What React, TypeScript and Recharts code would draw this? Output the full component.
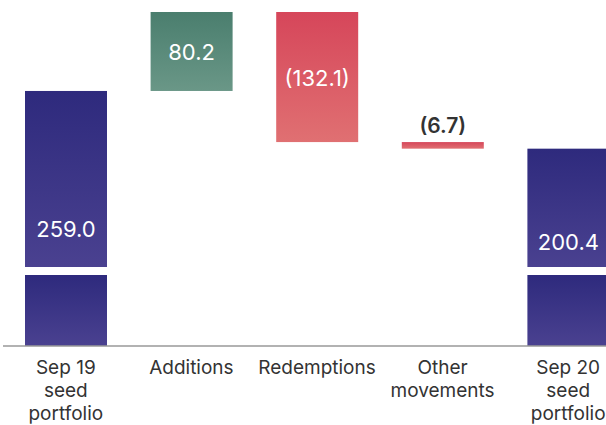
import React from "react";
import { BarChart, Bar, XAxis, YAxis, Cell, LabelList } from "recharts";

const categories = ["Sep 19\nseed\nportfolio", "Additions", "Redemptions", "Other\nmovements", "Sep 20\nseed\nportfolio"];
const values = [259.0, 80.2, -132.1, -6.7, 200.4];
const kinds = ["total", "up", "down", "down", "total"];
const labels = ["259.0", "80.2", "(132.1)", "(6.7)", "200.4"];

const data = (() => {
  let running = 0;
  return categories.map((name, i) => {
    let range: [number, number];
    if (kinds[i] === "total") {
      range = [0, Math.abs(values[i])];
      running = Math.abs(values[i]);
    } else {
      const next = running + values[i];
      range = [Math.min(running, next), Math.max(running, next)];
      running = next;
    }
    return { name, range, kind: kinds[i], label: labels[i] };
  });
})();

const gradId: Record<string, string> = { total: "gTotal", up: "gUp", down: "gDown" };

const FONT = "Inter, 'Noto Sans', sans-serif";

const BAR_GAP_BOTTOM = 71;
const BAR_GAP = 8;

const BarShape = (props: any) => {
  const { x, y, width, height, payload } = props;
  const fill = `url(#${gradId[payload.kind]})`;
  if (payload.kind === "total") {
    const lowerTop = y + height - BAR_GAP_BOTTOM;
    return (
      <g>
        <rect x={x} y={y} width={width} height={lowerTop - BAR_GAP - y} fill={fill} />
        <rect x={x} y={lowerTop} width={width} height={BAR_GAP_BOTTOM} fill={fill} />
      </g>
    );
  }
  return <rect x={x} y={y} width={width} height={height} fill={fill} />;
};

const BarLabel = (props: any) => {
  const { x, y, width, height, index } = props;
  const d = data[index];
  const cx = x + width / 2;
  if (d.kind === "total") {
    const upperH = height - BAR_GAP_BOTTOM - BAR_GAP;
    return (
      <text x={cx} y={y + upperH * 0.785} textAnchor="middle" dominantBaseline="central" fill="#ffffff" fontSize={22} fontFamily={FONT}>
        {d.label}
      </text>
    );
  }
  if (height < 20) {
    return (
      <text x={cx} y={y - 17} textAnchor="middle" dominantBaseline="central" fill="#333333" fontSize={21} fontWeight={600} fontFamily={FONT}>
        {d.label}
      </text>
    );
  }
  return (
    <text x={cx} y={y + height / 2 + 1} textAnchor="middle" dominantBaseline="central" fill="#ffffff" fontSize={22} fontFamily={FONT}>
      {d.label}
    </text>
  );
};

const Tick = (props: any) => {
  const { x, y, payload } = props;
  const lines = String(payload.value).split("\n");
  return (
    <text x={x} y={y} textAnchor="middle" fill="#333333" fontSize={19} fontFamily={FONT}>
      {lines.map((l, i) => (
        <tspan key={i} x={x} dy={i === 0 ? 20 : 23}>
          {l}
        </tspan>
      ))}
    </text>
  );
};

export default function App() {
  return (
    <div style={{ position: "absolute", left: 0, top: 0, width: 606, height: 425, overflow: "hidden", background: "#fff" }}>
      <BarChart width={634} height={425} data={data} margin={{ top: 12, right: 3, bottom: 0, left: 3 }} barSize={82}>
        <defs>
          <linearGradient id="gTotal" x1="0" y1="0" x2="0" y2="1">
            <stop offset="0%" stopColor="#2e2a7d" />
            <stop offset="100%" stopColor="#4a4190" />
          </linearGradient>
          <linearGradient id="gUp" x1="0" y1="0" x2="0" y2="1">
            <stop offset="0%" stopColor="#4a7e6e" />
            <stop offset="100%" stopColor="#6a9787" />
          </linearGradient>
          <linearGradient id="gDown" x1="0" y1="0" x2="0" y2="1">
            <stop offset="0%" stopColor="#d6465a" />
            <stop offset="100%" stopColor="#e07072" />
          </linearGradient>
        </defs>
        <XAxis
          dataKey="name"
          height={79}
          tickLine={false}
          axisLine={{ stroke: "#999999", strokeWidth: 1.5 }}
          tick={<Tick />}
          interval={0}
        />
        <YAxis hide domain={[0, 339.2]} />
        <Bar dataKey="range" isAnimationActive={false} shape={<BarShape />}>
          {data.map((d, i) => (
            <Cell key={i} fill={`url(#${gradId[d.kind]})`} />
          ))}
          <LabelList dataKey="label" content={<BarLabel />} />
        </Bar>
      </BarChart>
    </div>
  );
}
